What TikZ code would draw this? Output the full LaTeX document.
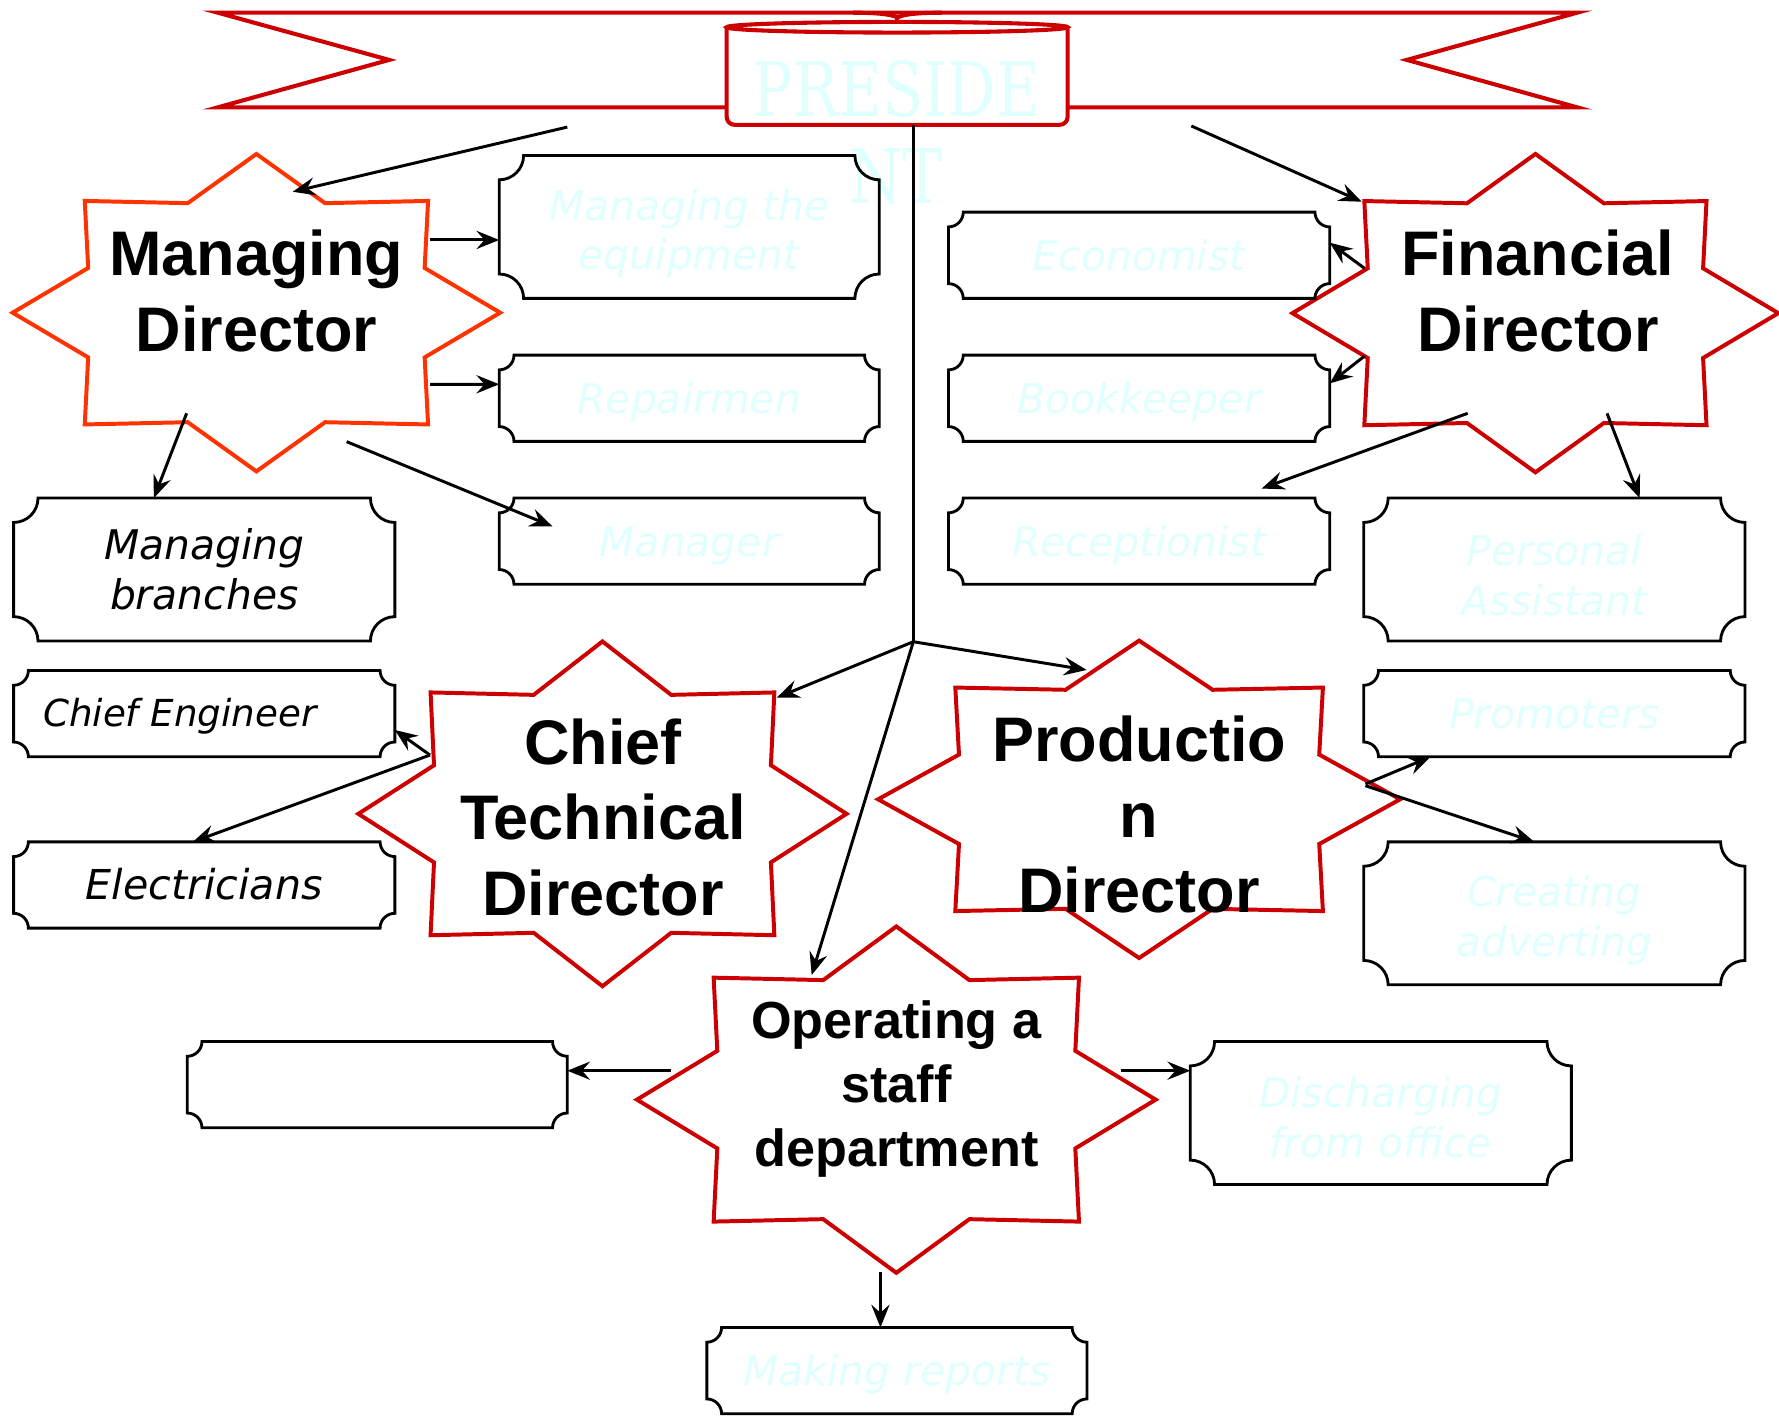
\documentclass[tikz,border=0pt]{standalone}
\usepackage{fontspec}
\setmainfont{Liberation Sans}
\newfontfamily\starfont{Liberation Sans}
\newfontfamily\plaquefont{DejaVu Sans}
\newfontfamily\presfont{DejaVu Serif}[FakeStretch=0.8]
\usetikzlibrary{arrows.meta}
\definecolor{palecyan}{HTML}{E0FFFF}
\definecolor{darkred}{HTML}{CC0000}
\definecolor{orangered}{HTML}{FF3300}
\tikzset{
  bannerline/.style={draw=darkred, line width=3.6pt, line join=miter},
  holder/.style={inner sep=0pt, outer sep=0pt, draw=none},
  plaqueline/.style={draw=black, line width=2.5pt},
  starline/.style={line width=3.5pt, line join=miter},
  wire/.style={draw=black, line width=2.6pt},
  arr/.style={wire, -{Stealth[length=20pt,width=16pt,inset=7pt]}},
  plaquetext/.style={holder, font={\plaquefont\itshape\fontsize{36pt}{44pt}\selectfont}, align=center, text=palecyan},
  oneline/.style={text height=26.2pt, text depth=0pt},
  startext/.style={inner sep=0pt, font={\starfont\bfseries\fontsize{55.5pt}{66.7pt}\selectfont}, align=center, text=black},
}
\newcommand\plaqueof[2]{%
  \pgfmathsetmacro\pk{0.5523*#2}%
  \draw[plaqueline] ([shift={(#2,0)}]#1.north west) -- ([shift={(-#2,0)}]#1.north east)
    .. controls ([shift={(-#2,\pk)}]#1.north east) and ([shift={(-\pk,#2)}]#1.north east) .. ([shift={(0,#2)}]#1.north east)
    -- ([shift={(0,-#2)}]#1.south east)
    .. controls ([shift={(-\pk,-#2)}]#1.south east) and ([shift={(-#2,-\pk)}]#1.south east) .. ([shift={(-#2,0)}]#1.south east)
    -- ([shift={(#2,0)}]#1.south west)
    .. controls ([shift={(#2,-\pk)}]#1.south west) and ([shift={(\pk,-#2)}]#1.south west) .. ([shift={(0,-#2)}]#1.south west)
    -- ([shift={(0,#2)}]#1.north west)
    .. controls ([shift={(\pk,#2)}]#1.north west) and ([shift={(#2,\pk)}]#1.north west) .. ([shift={(#2,0)}]#1.north west)
    -- cycle;}
\newcommand\starof[4]{%
  \pgfmathsetmacro\sA{#2}\pgfmathsetmacro\sB{#3}%
  \pgfmathsetmacro\tA{1.42*#2}\pgfmathsetmacro\tB{1.42*#3}%
  \pgfmathsetmacro\iA{0.4*#2}\pgfmathsetmacro\iB{0.4*#3}%
  \pgfmathsetmacro\jA{0.98*#2}\pgfmathsetmacro\jB{0.98*#3}%
  \draw[starline,draw=#4] ([shift={(0,-\tB)}]#1.center) -- ([shift={(\iA,-\jB)}]#1.center)
    -- ([shift={(\sA,-\sB)}]#1.center) -- ([shift={(\jA,-\iB)}]#1.center)
    -- ([shift={(\tA,0)}]#1.center) -- ([shift={(\jA,\iB)}]#1.center)
    -- ([shift={(\sA,\sB)}]#1.center) -- ([shift={(\iA,\jB)}]#1.center)
    -- ([shift={(0,\tB)}]#1.center) -- ([shift={(-\iA,\jB)}]#1.center)
    -- ([shift={(-\sA,\sB)}]#1.center) -- ([shift={(-\jA,\iB)}]#1.center)
    -- ([shift={(-\tA,0)}]#1.center) -- ([shift={(-\jA,-\iB)}]#1.center)
    -- ([shift={(-\sA,-\sB)}]#1.center) -- ([shift={(-\iA,-\jB)}]#1.center)
    -- cycle;}
\begin{document}
\begin{tikzpicture}[x=1pt,y=-1pt]
\useasboundingbox (0,0) rectangle (1568,1247.3);
% ---------- banner ----------
\draw[bannerline, fill=white] (192,11.2) -- (1390,11.2) -- (1240,52.8) -- (1390,94.6)
  -- (192,94.6) -- (343,52.8) -- cycle;
\node[holder, minimum width=300.5pt, minimum height=86pt] (pres) at (790.75,67) {};
\fill[white] (pres.north west) rectangle (pres.south east);
\draw[bannerline, rounded corners=7pt] (pres.north west) -- (pres.south west) -- (pres.south east) -- (pres.north east);
\draw[bannerline, fill=white] (pres.north) ellipse [x radius=150.25pt, y radius=4.7pt];
\draw[bannerline] (752,11.2) .. controls (772,11.2) and (786,12.5) .. (791,15.5)
  .. controls (796,12.5) and (810,11.2) .. (830,11.2);
\draw[bannerline] (791,15.5) -- (791,19.5);
\node[holder, font={\presfont\fontsize{66.5pt}{76pt}\selectfont}, text=palecyan, align=center] (preslbl) at (790,116.75) {PRESIDE\\NT};
% ---------- stars ----------
\node[holder, minimum width=302.6pt, minimum height=197pt] (md) at (226,275.6) {};
\starof{md}{151.3}{98.5}{orangered}
\node[holder, minimum width=301.6pt, minimum height=197.6pt] (fd) at (1353.3,276) {};
\starof{fd}{150.8}{98.8}{darkred}
\node[holder, minimum width=303pt, minimum height=214pt] (ctd) at (531,717.3) {};
\starof{ctd}{151.5}{107}{darkred}
\node[holder, minimum width=324pt, minimum height=197pt] (pd) at (1004,704.5) {};
\starof{pd}{162}{98.5}{darkred}
\node[holder, minimum width=322pt, minimum height=215pt] (op) at (790,969.2) {};
\starof{op}{161}{107.5}{darkred}
% ---------- plaques ----------
\node[holder, minimum width=335pt, minimum height=126pt] (eq) at (607.5,200) {};
\plaqueof{eq}{21.5}
\node[plaquetext] (eqtext) at ([yshift=-6pt]eq.center) {Managing the\\equipment};
\node[plaquetext, oneline, minimum width=335pt, minimum height=76pt] (rep) at (607.5,351) {Repairmen};
\plaqueof{rep}{13}
\node[plaquetext, oneline, minimum width=335pt, minimum height=76pt] (mgr) at (607.5,477) {Manager};
\plaqueof{mgr}{13}
\node[plaquetext, text=black, minimum width=336pt, minimum height=126pt] (mb) at (180,502) {Managing\\branches};
\plaqueof{mb}{21.5}
\node[holder, minimum width=336pt, minimum height=76pt] (ce) at (180,629) {};
\plaqueof{ce}{13}
\node[holder, anchor=base west, font={\plaquefont\itshape\fontsize{32.8pt}{40pt}\selectfont}] (cetext) at (38,640.7) {Chief Engineer};
\node[plaquetext, oneline, text=black, minimum width=336pt, minimum height=76pt, font={\plaquefont\itshape\fontsize{36.3pt}{44pt}\selectfont}] (el) at (180,780) {Electricians};
\plaqueof{el}{13}
\node[plaquetext, oneline, minimum width=336pt, minimum height=76pt] (eco) at (1004,225) {Economist};
\plaqueof{eco}{13}
\node[plaquetext, oneline, minimum width=336pt, minimum height=76pt] (bk) at (1004,351) {Bookkeeper};
\plaqueof{bk}{13}
\node[plaquetext, oneline, minimum width=336pt, minimum height=76pt] (rec) at (1004,477) {Receptionist};
\plaqueof{rec}{13}
\node[holder, minimum width=336pt, minimum height=126pt] (pa) at (1370,502) {};
\plaqueof{pa}{21.5}
\node[plaquetext] (patext) at ([yshift=-5pt]pa.center) {Personal\\Assistant};
\node[plaquetext, oneline, minimum width=336pt, minimum height=76pt] (pro) at (1370,629) {Promoters};
\plaqueof{pro}{13}
\node[holder, minimum width=336pt, minimum height=126pt] (ca) at (1370,805) {};
\plaqueof{ca}{21.5}
\node[plaquetext] (catext) at ([yshift=-6pt]ca.center) {Creating\\adverting};
\node[holder, minimum width=335pt, minimum height=76pt] (em) at (332.5,956) {};
\plaqueof{em}{13}
\node[holder, minimum width=336pt, minimum height=126pt] (dis) at (1217,981) {};
\plaqueof{dis}{21.5}
\node[plaquetext] (distext) at ([yshift=-4pt]dis.center) {Discharging\\from office};
\node[plaquetext, oneline, minimum width=335pt, minimum height=76pt] (mr) at (790.5,1208) {Making reports};
\plaqueof{mr}{13}
% ---------- connectors ----------
\coordinate (jn) at (805,565.6);
\draw[wire] ([xshift=14.25pt]pres.south) -- (jn);
\draw[arr] ([shift={(-290.75,45)}]pres.center) -- ([shift={(32,-106.6)}]md.center);
\draw[arr] ([shift={(259.25,44)}]pres.center) -- ([shift={(-153.1,-98.2)}]fd.center);
\draw[arr] (jn) -- ([shift={(153.6,-102.4)}]ctd.center);
\draw[arr] (jn) -- ([shift={(-46.2,-114)}]pd.center);
\draw[arr] (jn) -- ([shift={(-74.6,-109.8)}]op.center);
\draw[arr] ([shift={(153,-64.1)}]md.center) -- ([shift={(0,11.5)}]eq.west);
\draw[arr] ([shift={(153,63.1)}]md.center) -- ([shift={(0,-12.3)}]rep.west);
\draw[arr] ([shift={(79.6,113.7)}]md.center) -- ([shift={(-120.5,-13)}]mgr.center);
\draw[arr] ([shift={(-61.5,88.7)}]md.center) -- ([shift={(-44.4,0)}]mb.north);
\draw[arr] ([shift={(-150.6,-39.5)}]fd.center) -- ([shift={(0,-11.1)}]eco.east);
\draw[arr] ([shift={(-150.6,37.8)}]fd.center) -- ([shift={(0,-13.1)}]bk.east);
\draw[arr] ([shift={(-59.7,88.3)}]fd.center) -- ([shift={(108,-46.4)}]rec.center);
\draw[arr] ([shift={(63.1,88.3)}]fd.center) -- ([shift={(75.2,0)}]pa.north);
\draw[arr] ([shift={(-152,-51.8)}]ctd.center) -- ([shift={(0,14.4)}]ce.east);
\draw[arr] ([shift={(-152,-51.8)}]ctd.center) -- ([shift={(-10,0)}]el.north);
\draw[arr] ([shift={(199.5,-13.5)}]pd.center) -- ([shift={(-109,0)}]pro.south);
\draw[arr] ([shift={(199.5,-12)}]pd.center) -- ([shift={(-17.7,0)}]ca.north);
\draw[arr] ([shift={(-199,-25.5)}]op.center) -- ([shift={(0,-12.3)}]em.east);
\draw[arr] ([shift={(198,-25.5)}]op.center) -- ([shift={(0,-37.3)}]dis.west);
\draw[arr] ([shift={(-14,151.7)}]op.center) -- ([shift={(-14.5,0)}]mr.north);
% ---------- star labels ----------
\node[startext] (mdlbl) at (226,256.25) {Managing\\Director};
\node[startext] (fdlbl) at (1355.5,256.25) {Financial\\Director};
\node[startext] (ctdlbl) at (531.5,720.5) {Chief\\Technical\\Director};
\node[startext] (pdlbl) at (1004,718) {Productio\\n\\Director};
\node[startext, font={\starfont\bfseries\fontsize{46pt}{56.3pt}\selectfont}] (oplbl) at (790,960.1) {Operating a\\staff\\department};
\end{tikzpicture}
\end{document}
